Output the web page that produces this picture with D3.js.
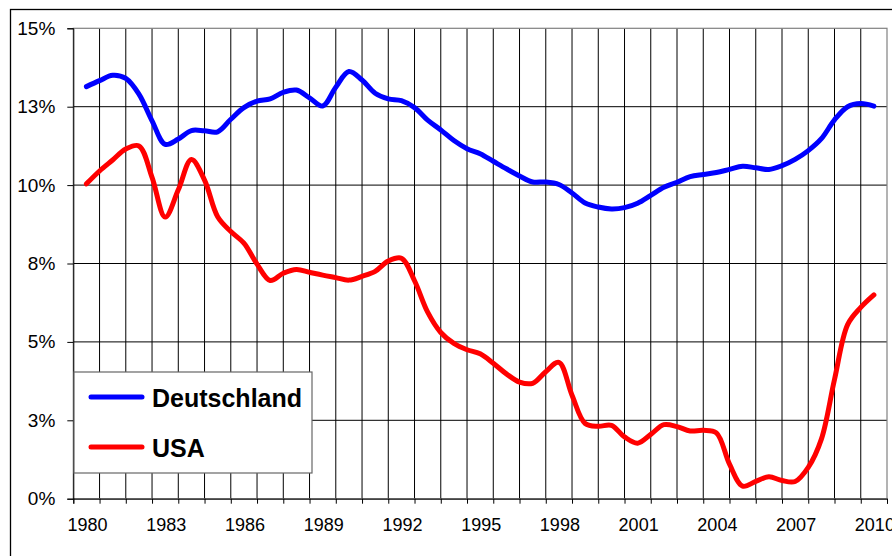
<!DOCTYPE html>
<html>
<head>
    <meta charset="utf-8">
    <script type="text/javascript" src="https://d3js.org/d3.v7.min.js"></script>
    <style>
        body {
            background: #ffffff;
            margin: 0;
            padding: 0;
            overflow: hidden;
        }
        .tick_label {
            font-family: "Liberation Sans", Arial, sans-serif;
            fill: #000;
        }
        .legend_text {
            font-family: "Liberation Sans", Arial, sans-serif;
            font-weight: bold;
            font-size: 25px;
            fill: #000;
        }
    </style>
</head>
<body>
    <div id="chart"></div>
    <script>
        // half-year periods and the two series (percent)
        var periods = [];
        for (var p = 0; p <= 60; p++) { periods.push(1980 + p / 2); }

        var deutschland = [
            13.14, 13.33, 13.50, 13.40, 12.90, 12.05, 11.30, 11.47, 11.74, 11.73,
            11.70, 12.10, 12.47, 12.68, 12.75, 12.96, 13.03, 12.78, 12.52, 13.12,
            13.62, 13.35, 12.93, 12.75, 12.69, 12.47, 12.07, 11.76, 11.42, 11.16,
            11.00, 10.76, 10.52, 10.29, 10.10, 10.10, 10.02, 9.75, 9.43, 9.30,
            9.24, 9.28, 9.42, 9.67, 9.93, 10.09, 10.27, 10.34, 10.40, 10.50,
            10.60, 10.55, 10.50, 10.62, 10.82, 11.10, 11.48, 12.08, 12.50, 12.60,
            12.52
        ];

        var usa = [
            10.04, 10.45, 10.80, 11.15, 11.25, 10.25, 8.98, 9.85, 10.82, 10.16,
            8.99, 8.52, 8.15, 7.48, 6.96, 7.19, 7.31, 7.22, 7.13, 7.05,
            6.97, 7.09, 7.25, 7.58, 7.67, 6.95, 5.95, 5.30, 4.95, 4.75,
            4.62, 4.32, 3.98, 3.72, 3.68, 4.05, 4.35, 3.30, 2.40, 2.31,
            2.34, 1.97, 1.77, 2.05, 2.36, 2.30, 2.16, 2.18, 2.10, 1.10,
            0.40, 0.55, 0.70, 0.58, 0.55, 1.00, 1.90, 3.80, 5.55, 6.10,
            6.50
        ];

        var yearLabels = [1980, 1983, 1986, 1989, 1992, 1995, 1998, 2001, 2004, 2007, 2010];
        var yTickValues = [0, 2.5, 5, 7.5, 10, 12.5, 15];
        var yTickLabels = ["0%", "3%", "5%", "8%", "10%", "13%", "15%"];
        var seriesNames = ["Deutschland", "USA"];
        var seriesColors = ["#0000ff", "#ff0000"];

        var width = 892, height = 556;
        var plot = { left: 73.3, right: 887, top: 28.3, bottom: 498.7 };

        var svg = d3.select("#chart")
            .append("svg")
            .attr("width", width)
            .attr("height", height);

        // outer chart frame (goes past the right and bottom edge)
        svg.append("rect")
            .attr("x", 10.5).attr("y", 9.5)
            .attr("width", 900).attr("height", 600)
            .attr("fill", "none")
            .attr("stroke", "#000")
            .attr("stroke-width", 1.3);

        var x = d3.scaleLinear().domain([1979.5, 2010.5]).range([plot.left, plot.right]);
        var y = d3.scaleLinear().domain([0, 15]).range([plot.bottom, plot.top]);

        // year boundaries -> vertical grid lines
        var bounds = d3.range(1979.5, 2011, 1);

        svg.selectAll(".vgrid")
            .data(bounds.slice(1, -1))
            .enter().append("line")
            .attr("class", "vgrid")
            .attr("x1", function(d) { return x(d); })
            .attr("x2", function(d) { return x(d); })
            .attr("y1", plot.top).attr("y2", plot.bottom)
            .attr("stroke", "#000").attr("stroke-width", 1);

        svg.selectAll(".hgrid")
            .data(yTickValues.slice(1, -1))
            .enter().append("line")
            .attr("class", "hgrid")
            .attr("x1", plot.left).attr("x2", plot.right)
            .attr("y1", function(d) { return y(d); })
            .attr("y2", function(d) { return y(d); })
            .attr("stroke", "#000").attr("stroke-width", 1);

        // plot area border
        svg.append("rect")
            .attr("x", plot.left).attr("y", plot.top)
            .attr("width", plot.right - plot.left)
            .attr("height", plot.bottom - plot.top)
            .attr("fill", "none")
            .attr("stroke", "#808080").attr("stroke-width", 1.2);

        // y axis
        var yAxis = d3.axisLeft(y)
            .tickValues(yTickValues)
            .tickSize(6)
            .tickPadding(12)
            .tickFormat(function(d, i) { return yTickLabels[i]; });

        var gy = svg.append("g")
            .attr("transform", "translate(" + plot.left + ",0)")
            .call(yAxis);
        gy.select(".domain").attr("stroke", "#000");
        gy.selectAll("line").attr("stroke", "#000");
        gy.selectAll("text").attr("class", "tick_label").style("font-size", "19px");

        // x axis: tick marks on year boundaries, labels on every third year
        var xAxis = d3.axisBottom(x)
            .tickValues(bounds)
            .tickSize(5)
            .tickFormat("");

        var gx = svg.append("g")
            .attr("transform", "translate(0," + plot.bottom + ")")
            .call(xAxis);
        gx.select(".domain").attr("stroke", "#000");
        gx.selectAll("line").attr("stroke", "#000");

        svg.selectAll(".year_label")
            .data(yearLabels)
            .enter().append("text")
            .attr("class", "tick_label year_label")
            .attr("x", function(d) { return x(d) + 1; })
            .attr("y", 531)
            .attr("text-anchor", "middle")
            .style("font-size", "18px")
            .text(function(d) { return d; });

        // series lines
        var line = d3.line()
            .x(function(d, i) { return x(periods[i]); })
            .y(function(d) { return y(d); })
            .curve(d3.curveCatmullRom.alpha(0.5));

        [deutschland, usa].forEach(function(values, k) {
            svg.append("path")
                .datum(values)
                .attr("d", line)
                .attr("fill", "none")
                .attr("stroke", seriesColors[k])
                .attr("stroke-width", 5)
                .attr("stroke-linecap", "round")
                .attr("stroke-linejoin", "round");
        });

        // legend box
        var legend = svg.append("g");
        legend.append("rect")
            .attr("x", 74).attr("y", 372)
            .attr("width", 238).attr("height", 101)
            .attr("fill", "#fff")
            .attr("stroke", "#666").attr("stroke-width", 1.2);

        seriesNames.forEach(function(name, k) {
            var ly = 397 + k * 50;
            legend.append("line")
                .attr("x1", 91).attr("x2", 142)
                .attr("y1", ly).attr("y2", ly)
                .attr("stroke", seriesColors[k])
                .attr("stroke-width", 5)
                .attr("stroke-linecap", "round");
            legend.append("text")
                .attr("class", "legend_text")
                .attr("x", 152)
                .attr("y", ly + 10)
                .text(name);
        });
    </script>
</body>
</html>
